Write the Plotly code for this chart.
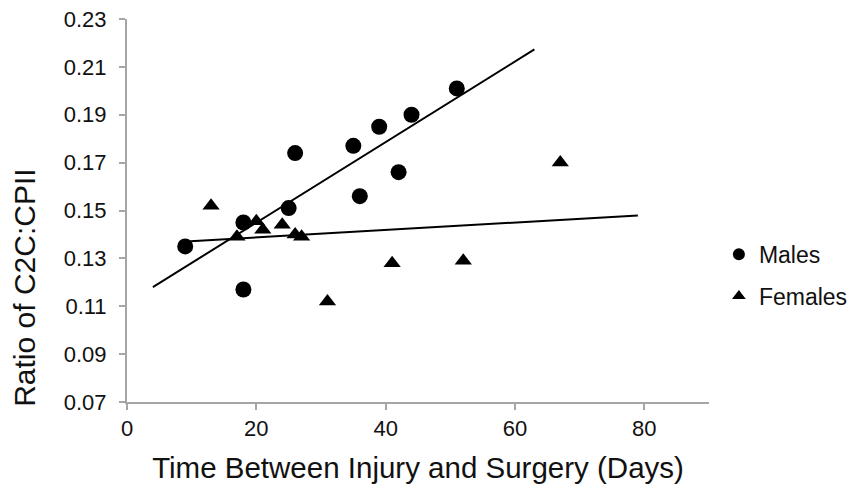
import plotly.graph_objects as go

# Data
male_days = [9, 18, 18, 25, 26, 35, 36, 39, 42, 44, 51]
male_ratio = [0.135, 0.145, 0.117, 0.151, 0.174, 0.177, 0.156, 0.185, 0.166, 0.190, 0.201]

female_days = [13, 17, 20, 21, 24, 26, 27, 31, 41, 52, 67]
female_ratio = [0.152, 0.139, 0.1455, 0.142, 0.144, 0.140, 0.139, 0.112, 0.128, 0.129, 0.170]

# Linear trend line end points
male_trend_days = [4, 63]
male_trend_ratio = [0.118, 0.2173]
female_trend_days = [9.8, 79]
female_trend_ratio = [0.1372, 0.1479]

x_ticks = [0, 20, 40, 60, 80]
y_ticks = [0.07, 0.09, 0.11, 0.13, 0.15, 0.17, 0.19, 0.21, 0.23]

FONT = "Liberation Sans, Arial, sans-serif"
TXT = "#111111"
AXC = "#a6a6a6"

fig = go.Figure()

fig.add_trace(go.Scatter(
    x=male_trend_days, y=male_trend_ratio, mode="lines",
    line=dict(color="black", width=2), showlegend=False, hoverinfo="skip"))
fig.add_trace(go.Scatter(
    x=female_trend_days, y=female_trend_ratio, mode="lines",
    line=dict(color="black", width=2), showlegend=False, hoverinfo="skip"))

fig.add_trace(go.Scatter(
    x=male_days, y=male_ratio, mode="markers", name="Males",
    legendgroup="m",
    marker=dict(symbol="circle", size=16, color="black")))
fig.add_trace(go.Scatter(
    x=female_days, y=female_ratio, mode="markers", name="Females",
    legendgroup="f",
    marker=dict(symbol="triangle-up", size=15, color="black")))

fig.update_layout(
    width=851, height=493,
    margin=dict(l=127, r=142, t=19, b=91, autoexpand=False),
    paper_bgcolor="white", plot_bgcolor="white",
    font=dict(family=FONT, color=TXT, size=22),
    showlegend=True,
    legend=dict(
        x=1.017, xanchor="left", y=0.331, yanchor="middle",
        font=dict(size=23, family=FONT, color=TXT),
        itemsizing="constant", traceorder="grouped", tracegroupgap=9,
        bgcolor="rgba(0,0,0,0)"),
    annotations=[dict(
        text="Ratio of C2C:CPII", textangle=-90,
        xref="paper", yref="paper", x=-0.176, y=0.297,
        xanchor="center", yanchor="middle", showarrow=False,
        font=dict(size=30, family=FONT, color=TXT))],
)

fig.update_xaxes(
    range=[0, 90], tickvals=x_ticks, ticktext=[str(v) for v in x_ticks],
    showline=True, linecolor=AXC, linewidth=2,
    ticks="outside", ticklen=6, tickcolor=AXC, tickwidth=2,
    showgrid=False, zeroline=False, automargin=False,
    tickfont=dict(size=22, family=FONT, color=TXT),
    title=dict(text="Time Between Injury and Surgery (Days)",
               font=dict(size=29.5, family=FONT, color=TXT), standoff=17),
)
fig.update_yaxes(
    range=[0.07, 0.23], tickvals=y_ticks, ticktext=[f"{v:.2f}" for v in y_ticks],
    showline=True, linecolor=AXC, linewidth=2,
    ticks="outside", ticklen=6, tickcolor=AXC, tickwidth=2,
    showgrid=False, zeroline=False, automargin=False,
    tickfont=dict(size=22, family=FONT, color=TXT),
    ticklabelstandoff=8,
)

fig.write_html("out.html", config={"displayModeBar": False},
               post_script="document.body.style.margin='0';")
